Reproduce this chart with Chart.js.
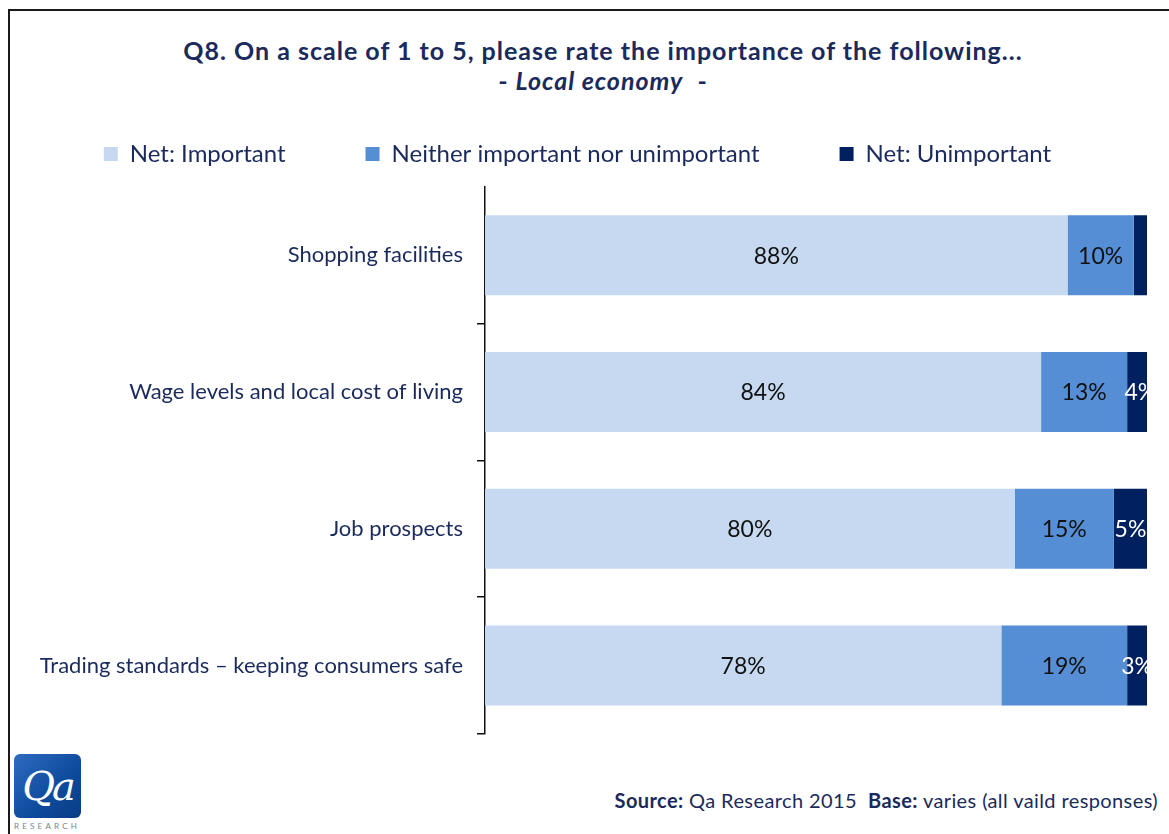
<!DOCTYPE html>
<html lang="en">
<head>
  <meta charset="UTF-8" />
  <title>Q8. Local economy</title>
  <script src="https://cdn.jsdelivr.net/npm/chart.js"></script>
  <style>
    body {
      margin: 0;
      width: 1169px;
      height: 834px;
      overflow: hidden;
      background: #fff;
      font-family: Lato, "Open Sans", sans-serif;
      color: #1b2a5c;
      position: relative;
    }

    #frame {
      position: absolute;
      left: 8px;
      top: 9px;
      width: 1200px;
      height: 900px;
      border-left: 2px solid #1a1a1a;
      border-top: 2px solid #1a1a1a;
    }

    #title {
      position: absolute;
      left: 8px;
      width: 1190px;
      top: 35px;
      text-align: center;
      font-weight: bold;
      font-size: 25px;
      letter-spacing: 1px;
      line-height: 30px;
      color: #1b2a5c;
    }

    #chart-container {
      position: absolute;
      left: 8px;
      top: 62px;
      width: 1190px;
      height: 699px;
    }

    #logo {
      position: absolute;
      left: 14px;
      top: 754px;
      width: 67px;
      height: 64px;
      border-radius: 6px;
      background: linear-gradient(135deg, #2f6cc0 0%, #0d4a9c 60%, #0a3c86 100%);
      color: #fff;
      font-family: "DejaVu Serif", serif;
      font-style: italic;
      font-size: 40px;
      line-height: 64px;
      text-align: center;
      letter-spacing: -3px;
    }

    #logo-sub {
      position: absolute;
      left: 14px;
      top: 821px;
      width: 67px;
      font-size: 8px;
      letter-spacing: 3.2px;
      color: #7a8190;
    }

    #source {
      position: absolute;
      right: 11px;
      top: 788px;
      font-size: 20px;
      letter-spacing: 0.4px;
      color: #1b2a5c;
    }
  </style>
</head>

<body>
  <div id="frame"></div>
  <div id="title">
    Q8. On a scale of 1 to 5, please rate the importance of the following...<br>
    - <i>Local economy</i> &nbsp;-
  </div>

  <div id="chart-container">
    <canvas id="economyChart"></canvas>
  </div>

  <div id="logo">Qa</div>
  <div id="logo-sub">RESEARCH</div>
  <div id="source"><b>Source:</b> Qa Research 2015 &nbsp;<b>Base:</b> varies (all vaild responses)</div>

  <script>
    // Categories (top to bottom)
    const categories = [
      'Shopping facilities',
      'Wage levels and local cost of living',
      'Job prospects',
      'Trading standards – keeping consumers safe'
    ];

    // Series names and values (%)
    const seriesNames = ['Net: Important', 'Neither important nor unimportant', 'Net: Unimportant'];
    const important = [88, 84, 80, 78];
    const neither = [10, 13, 15, 19];
    const unimportant = [2, 4, 5, 3];

    const seriesColors = ['#c6d9f1', '#558ed5', '#002060'];
    const labelColors = ['#111111', '#111111', '#ffffff'];

    const navy = '#1b2a5c';

    // Percentage labels centred in each segment, cut off at the right edge of the plot
    const segmentLabels = {
      id: 'segmentLabels',
      afterDatasetsDraw(chart) {
        const ctx = chart.ctx;
        const area = chart.chartArea;
        ctx.save();
        ctx.beginPath();
        ctx.rect(0, area.top, area.right, area.bottom - area.top);
        ctx.clip();
        ctx.font = '23px Lato, sans-serif';
        ctx.textAlign = 'center';
        ctx.textBaseline = 'middle';
        chart.data.datasets.forEach((ds, i) => {
          const meta = chart.getDatasetMeta(i);
          meta.data.forEach((bar, j) => {
            const v = ds.data[j];
            if (v < 3) return;
            ctx.fillStyle = labelColors[i];
            ctx.fillText(v + '%', (bar.x + bar.base) / 2, bar.y + 1);
          });
        });
        ctx.restore();
      }
    };

    // Extra room between the legend and the bars
    const legendGap = {
      id: 'legendGap',
      beforeInit(chart) {
        const fit = chart.legend.fit;
        chart.legend.fit = function () {
          fit.bind(chart.legend)();
          this.height += 11;
        };
      }
    };

    const ctx = document.getElementById('economyChart').getContext('2d');

    new Chart(ctx, {
      type: 'bar',
      data: {
        labels: categories,
        datasets: [important, neither, unimportant].map((vals, i) => ({
          label: seriesNames[i],
          data: vals,
          backgroundColor: seriesColors[i],
          borderWidth: 0,
          barPercentage: 1,
          categoryPercentage: 0.585
        }))
      },
      options: {
        indexAxis: 'y',
        responsive: true,
        maintainAspectRatio: false,
        animation: false,
        layout: {
          padding: { top: 0, right: 51, bottom: 17, left: 0 }
        },
        plugins: {
          legend: {
            position: 'top',
            labels: {
              boxWidth: 14,
              boxHeight: 14,
              padding: 80,
              color: navy,
              font: { family: 'Lato', size: 24 }
            }
          },
          tooltip: { enabled: false }
        },
        scales: {
          x: {
            stacked: true,
            min: 0,
            max: 100,
            display: false
          },
          y: {
            stacked: true,
            afterFit(scale) {
              scale.width = 477;
            },
            border: { display: true, color: '#111', width: 1.5 },
            grid: {
              offset: true,
              drawOnChartArea: false,
              tickLength: 8,
              tickColor: c => (c.index === 0 ? 'rgba(0,0,0,0)' : '#111'),
              lineWidth: 1.5
            },
            ticks: {
              padding: 14,
              color: navy,
              font: { family: 'Lato', size: 22 }
            }
          }
        }
      },
      plugins: [segmentLabels, legendGap]
    });
  </script>
</body>
</html>
